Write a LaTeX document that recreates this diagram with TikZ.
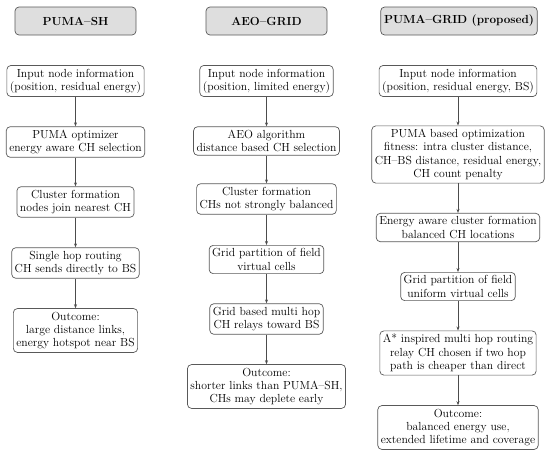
\documentclass[tikz,border=0pt]{standalone}
\usetikzlibrary{arrows.meta}
\begin{document}
\begin{tikzpicture}[x=1pt,y=-1pt,
  every node/.style={font=\fontsize{11.7}{13.3}\selectfont},
  hdr/.style={draw=black!65,fill=black!13,rounded corners=4pt,line width=0.7pt,minimum width=121pt,minimum height=28pt,font=\fontsize{11.7}{13.3}\selectfont\bfseries},
  box/.style={draw=black!65,rounded corners=4pt,line width=0.7pt,align=center,inner xsep=3pt,inner ysep=3.3pt},
  arr/.style={draw=black!70,line width=0.6pt,-{Stealth[length=4pt,width=3pt]}}]
\useasboundingbox (0,0) rectangle (550,456);
\node[hdr] (h1) at (75.5,21) {PUMA--SH};
\node[hdr] (h2) at (266.5,21) {AEO--GRID};
\node[hdr,minimum width=156pt] (h3) at (459,21) {PUMA--GRID (proposed)};

\node[box] (a1) at (75.5,81) {Input node information\\(position, residual energy)};
\node[box] (a2) at (75.5,142) {PUMA optimizer\\energy aware CH selection};
\node[box] (a3) at (75.5,202) {Cluster formation\\nodes join nearest CH};
\node[box] (a4) at (75.5,263) {Single hop routing\\CH sends directly to BS};
\node[box] (a5) at (75.5,330.5) {Outcome:\\large distance links,\\energy hotspot near BS};

\node[box] (b1) at (266.5,81) {Input node information\\(position, limited energy)};
\node[box] (b2) at (266.5,141) {AEO algorithm\\distance based CH selection};
\node[box] (b3) at (266.5,199) {Cluster formation\\CHs not strongly balanced};
\node[box] (b4) at (266.5,259.5) {Grid partition of field\\virtual cells};
\node[box] (b5) at (266.5,319) {Grid based multi hop\\CH relays toward BS};
\node[box] (b6) at (266.5,386.5) {Outcome:\\shorter links than PUMA--SH,\\CHs may deplete early};

\node[box] (c1) at (458,81) {Input node information\\(position, residual energy, BS)};
\node[box] (c2) at (458,154.5) {PUMA based optimization\\fitness: intra cluster distance,\\CH--BS distance, residual energy,\\CH count penalty};
\node[box] (c3) at (458,227.5) {Energy aware cluster formation\\balanced CH locations};
\node[box] (c4) at (458,286.5) {Grid partition of field\\uniform virtual cells};
\node[box] (c5) at (458,353) {A* inspired multi hop routing\\relay CH chosen if two hop\\path is cheaper than direct};
\node[box] (c6) at (458,427.5) {Outcome:\\balanced energy use,\\extended lifetime and coverage};

\foreach \p/\q in {a1/a2,a2/a3,a3/a4,a4/a5,b1/b2,b2/b3,b3/b4,b4/b5,b5/b6,c1/c2,c2/c3,c3/c4,c4/c5,c5/c6}
  \draw[arr] (\p) -- (\q);
\end{tikzpicture}
\end{document}
